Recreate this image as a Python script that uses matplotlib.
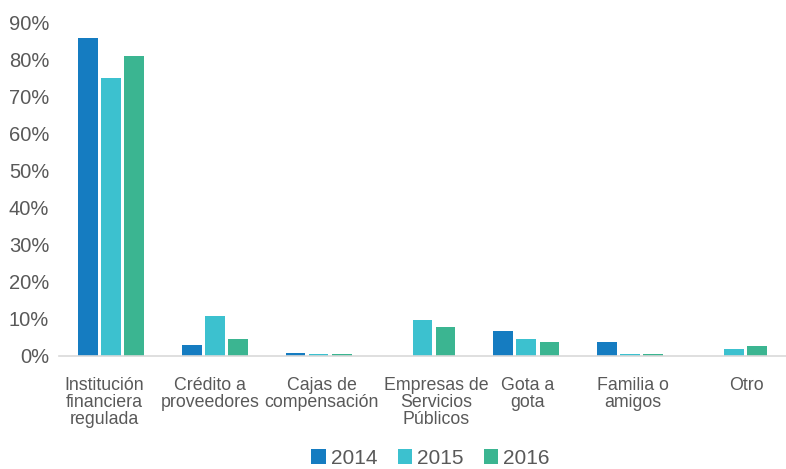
import matplotlib.pyplot as plt
import matplotlib.transforms as mtransforms
import numpy as np

plt.rcParams['font.family'] = ['Liberation Sans', 'DejaVu Sans']

categorias = ['Institución\nfinanciera\nregulada', 'Crédito a\nproveedores', 'Cajas de\ncompensación',
              'Empresas de\nServicios\nPúblicos', 'Gota a\ngota', 'Familia o\namigos', 'Otro']
anios = ['2014', '2015', '2016']
v2014 = [0.86, 0.03, 0.008, 0.0, 0.068, 0.038, 0.0]
v2015 = [0.75, 0.108, 0.005, 0.097, 0.047, 0.006, 0.018]
v2016 = [0.81, 0.047, 0.005, 0.078, 0.038, 0.005, 0.028]
colores = ['#157CC1', '#3CC1CF', '#3BB591']

fig = plt.figure(figsize=(7.86, 4.69), dpi=100)
ax = fig.add_axes([0.075, 0.241, 0.925, 0.710])

x = np.arange(len(categorias))
for i, (vals, c, lab) in enumerate(zip([v2014, v2015, v2016], colores, anios)):
    ax.bar(x + (i - 1) * 0.222, vals, width=0.19, color=c, label=lab, linewidth=0)

ax.set_xlim(-0.5, 6.5)
ax.set_ylim(0, 0.9)
ax.set_yticks(np.arange(0, 0.91, 0.1))
ax.set_yticklabels([f'{int(round(t*100))}%' for t in np.arange(0, 0.91, 0.1)])
ax.set_xticks(x)
ax.set_xticklabels(categorias, linespacing=1.0)
for s in ['top', 'right', 'left']:
    ax.spines[s].set_visible(False)
ax.spines['bottom'].set_color('#D9D9D9')
ax.spines['bottom'].set_linewidth(1.2)
ax.tick_params(axis='both', length=0, colors='#595959', labelsize=14.5)
ax.tick_params(axis='x', pad=15, labelsize=12.8)
ax.tick_params(axis='y', pad=7)

# desplazamiento horizontal de las etiquetas (como en Excel)
desp = [-7, -5, 3, 14, 1, 3, 12]
for lbl, d in zip(ax.get_xticklabels(), desp):
    lbl.set_transform(lbl.get_transform() + mtransforms.ScaledTranslation(d / 100, 0, fig.dpi_scale_trans))

fig.legend(loc='lower center', bbox_to_anchor=(0.548, 0.0), ncol=3, frameon=False,
           fontsize=15, handlelength=0.7, handleheight=0.7, handletextpad=0.25, columnspacing=0.95,
           borderaxespad=0, borderpad=0.05, labelcolor='#595959')

fig.savefig('out.png', dpi=100)
